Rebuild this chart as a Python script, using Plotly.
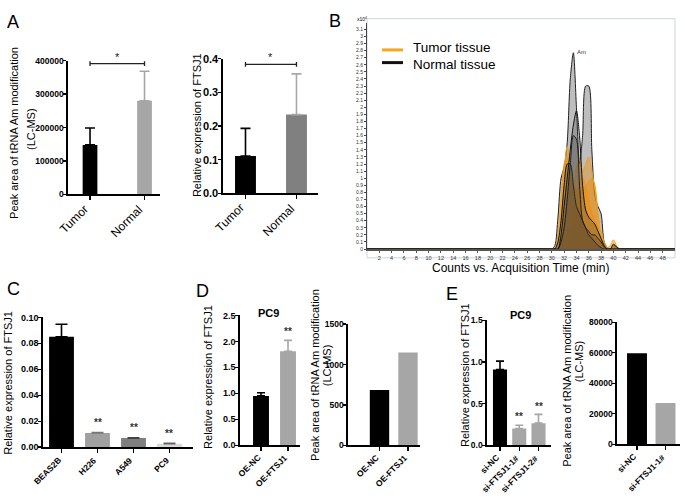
import plotly.graph_objects as go

W, H = 685, 501

# ---------------- data ----------------
A_CATS = ["Tumor", "Normal"]
A1_VALS = [148000, 280000]
A1_ERR = [50500, 88500]
A2_VALS = [0.111, 0.234]
A2_ERR = [0.082, 0.121]

C_CATS = ["BEAS2B", "H226", "A549", "PC9"]
C_VALS = [0.085, 0.011, 0.0070, 0.0026]
C_ERR = [0.0097, 0.0003, 0.0003, 0.0003]

D_CATS = ["OE-NC", "OE-FTSJ1"]
D1_VALS = [0.95, 1.81]
D1_ERR = [0.06, 0.21]
D2_VALS = [684, 1149]

E1_CATS = ["si-NC", "si-FTSJ1-1#", "si-FTSJ1-2#"]
E1_VALS = [0.91, 0.20, 0.265]
E1_ERR = [0.10, 0.04, 0.105]
E2_CATS = ["si-NC", "si-FTSJ1-1#"]
E2_VALS = [59600, 27000]

# chromatogram (counts x10^4 vs acquisition time, min)
TIME = [0, 29.5, 30, 30.5, 31, 31.5, 32, 32.5, 33, 33.5, 34, 34.5, 35, 35.5,
        36, 36.5, 37, 37.5, 38, 38.5, 39, 39.5, 40, 40.5, 41, 41.5, 50]
NORMAL_1 = [0, 0, 0, 0.05, 0.45, 1.0, 1.15, 1.5, 2.4, 2.77, 2.0, 1.2, 1.6, 2.3,
            2.3, 1.4, 0.75, 0.6, 0.5, 0.1, 0.02, 0, 0.05, 0.03, 0, 0, 0]
NORMAL_2 = [0, 0, 0, 0, 0, 0.2, 0.6, 1.0, 1.4, 1.75, 1.95, 1.6, 0.9, 0.55,
            0.45, 0.4, 0.35, 0.25, 0.15, 0.05, 0, 0, 0.07, 0.03, 0, 0, 0]
NORMAL_3 = [0, 0, 0, 0, 0, 0.1, 0.3, 0.7, 1.2, 1.6, 1.55, 0.9, 0.4, 0.3,
            0.25, 0.2, 0.2, 0.15, 0.1, 0.03, 0, 0, 0, 0, 0, 0, 0]
NORMAL_4 = [0, 0, 0, 0, 0.1, 0.4, 0.9, 1.2, 1.2, 0.9, 0.6, 0.5, 0.4, 0.3,
            0.2, 0.15, 0.1, 0.05, 0.02, 0, 0, 0, 0, 0, 0, 0, 0]
TUMOR_1 = [0, 0, 0, 0, 0.1, 0.5, 1.1, 1.45, 1.2, 0.8, 0.6, 0.6, 0.5, 0.35,
           0.25, 0.2, 0.15, 0.1, 0.05, 0, 0, 0, 0, 0, 0, 0, 0]
TUMOR_2 = [0, 0, 0, 0, 0, 0.05, 0.3, 0.6, 0.8, 0.9, 1.15, 1.27, 1.1, 1.2,
           1.3, 1.1, 0.85, 0.5, 0.2, 0.05, 0, 0, 0.05, 0, 0, 0, 0]
TUMOR_3 = [0, 0, 0, 0, 0, 0, 0, 0.05, 0.2, 0.4, 0.6, 0.8, 0.85, 0.9,
           0.95, 1.0, 0.9, 0.5, 0.2, 0.05, 0.02, 0.05, 0.13, 0.05, 0, 0, 0]
TUMOR_4 = [0, 0, 0, 0, 0.2, 0.7, 1.2, 1.3, 1.0, 0.9, 0.85, 0.7, 0.5, 0.3,
           0.2, 0.15, 0.1, 0.05, 0.02, 0, 0, 0, 0, 0, 0, 0, 0]
TUMOR_5 = [0, 0, 0, 0, 0, 0, 0.1, 0.2, 0.3, 0.55, 0.8, 0.95, 1.0, 0.9,
           0.7, 0.5, 0.4, 0.3, 0.25, 0.1, 0.02, 0, 0, 0, 0, 0, 0]
B_XTICKS = [2, 4, 6, 8, 10, 12, 14, 16, 18, 20, 22, 24, 26, 28, 30, 32, 34,
            36, 38, 40, 42, 44, 46, 48]

A1_TICKS = [0, 100000, 200000, 300000, 400000]
A2_TICKS = [0.0, 0.1, 0.2, 0.3, 0.4]
C_TICKS = [0.00, 0.02, 0.04, 0.06, 0.08, 0.10]
D1_TICKS = [0.0, 0.5, 1.0, 1.5, 2.0, 2.5]
D2_TICKS = [0, 500, 1000, 1500]
E1_TICKS = [0.0, 0.5, 1.0, 1.5]
E2_TICKS = [0, 20000, 40000, 60000, 80000]

# ---------------- helpers ----------------
FONT = "Liberation Sans, Arial, sans-serif"
fig = go.Figure()
layout = {}
annotations = []
shapes = []


def px(x):
    return x / W


def py(y):
    return 1 - y / H


def ref(n, kind):
    return kind if n == 1 else f"{kind}{n}"


def bar_panel(n, cats, vals, errs, colors, ecolors, xpx, ypx, xrange, width,
              yticks, yfmt, ytick_size, cat_size, cat_bold, cap):
    for i, (c, v) in enumerate(zip(cats, vals)):
        err = None
        if errs is not None:
            err = dict(type="data", symmetric=False, array=[errs[i]],
                       arrayminus=[0], color=ecolors[i], thickness=1.6,
                       width=cap)
        fig.add_trace(go.Bar(x=[c], y=[v], width=width, marker_color=colors[i],
                             marker_line_width=0, error_y=err,
                             xaxis=ref(n, "x"), yaxis=ref(n, "y"),
                             showlegend=False))
        # rotated category label, end of text at the tick
        annotations.append(dict(
            x=c, y=0, xref=ref(n, "x"), yref=ref(n, "y"), text=c,
            showarrow=False, textangle=-45, xanchor="right", yanchor="top",
            xshift=4, yshift=-5,
            font=dict(family=FONT, size=cat_size, color="black",
                      weight="bold" if cat_bold else "normal")))
    layout[ref(n, "xaxis")] = dict(
        domain=[px(xpx[0]), px(xpx[1])], range=xrange, type="category",
        categoryorder="array", categoryarray=cats, anchor=ref(n, "y"),
        showline=True, linecolor="black", linewidth=1.6, ticks="outside",
        ticklen=4, tickwidth=1.4, tickcolor="black", showticklabels=False,
        showgrid=False, zeroline=False, fixedrange=True)
    layout[ref(n, "yaxis")] = dict(
        domain=[py(ypx[1]), py(ypx[0])], range=[yticks[0], yticks[-1]],
        tickvals=yticks, tickformat=yfmt, anchor=ref(n, "x"),
        showline=True, linecolor="black", linewidth=1.6, ticks="outside",
        ticklen=3, tickwidth=1.4, tickcolor="black", ticklabelstandoff=-2,
        tickfont=dict(family=FONT, size=ytick_size, color="black",
                      weight="bold"),
        showgrid=False, zeroline=False, fixedrange=True)


def text(x, y, s, size, angle=0, bold=False, color="black", xanchor="center"):
    annotations.append(dict(
        x=px(x), y=py(y), xref="paper", yref="paper", text=s, showarrow=False,
        textangle=angle, xanchor=xanchor, yanchor="middle",
        font=dict(family=FONT, size=size, color=color,
                  weight="bold" if bold else "normal")))


def star(n, cat, yval, s="**", size=10):
    annotations.append(dict(
        x=cat, y=yval, xref=ref(n, "x"), yref=ref(n, "y"), text=s,
        showarrow=False, yanchor="bottom", yshift=0,
        font=dict(family=FONT, size=size, color="#333333", weight="bold")))


def bracket(n, x0, x1, yv, dy):
    xr, yr = ref(n, "x"), ref(n, "y")
    common = dict(xref=xr, yref=yr, line=dict(color="#222222", width=1.3))
    shapes.append(dict(type="line", x0=x0, x1=x1, y0=yv, y1=yv, **common))
    shapes.append(dict(type="line", x0=x0, x1=x0, y0=yv - dy, y1=yv + dy, **common))
    shapes.append(dict(type="line", x0=x1, x1=x1, y0=yv - dy, y1=yv + dy, **common))


GRAY = "#a6a6a6"

# ---------------- Panel A ----------------
bar_panel(1, A_CATS, A1_VALS, A1_ERR, ["#000000", GRAY], ["#000000", GRAY],
          (68, 160), (56, 193), [-0.404, 1.284], 0.27, A1_TICKS, "d", 8.5,
          12, False, 5)
bracket(1, 0, 1, 391000, 7300)
annotations.append(dict(x=0.5, y=391000, xref="x", yref="y", text="*",
                        showarrow=False, yanchor="bottom", yshift=-1,
                        font=dict(family=FONT, size=11, color="#222")))

bar_panel(2, A_CATS, A2_VALS, A2_ERR, ["#000000", "#808080"],
          ["#000000", "#a8a8a8"], (223, 318), (54, 192), [-0.441, 1.422],
          0.41, A2_TICKS, ".1f", 11, 12, False, 5)
bracket(2, 0, 1, 0.383, 0.007)
annotations.append(dict(x=0.5, y=0.383, xref="x2", yref="y2", text="*",
                        showarrow=False, yanchor="bottom", yshift=-1,
                        font=dict(family=FONT, size=11, color="#222")))

text(14, 130, "Peak area of tRNA Am modification", 11, -90)
text(31, 126, "(LC-MS)", 11, -90)
text(197, 122, "Relative expression of FTSJ1", 11, -90)

# ---------------- Panel B ----------------
tumor_line = "#f0a020"
tumor_fill = "rgba(235,140,10,0.42)"


def chrom(yvals, line, fill):
    fig.add_trace(go.Scatter(x=TIME, y=yvals, mode="lines",
                             line=dict(color=line, width=1, shape="spline",
                                       smoothing=0.8),
                             fill="tozeroy", fillcolor=fill,
                             xaxis="x3", yaxis="y3", showlegend=False,
                             hoverinfo="skip"))


chrom(NORMAL_1, "#222222", "rgba(110,110,110,0.45)")
for t in (TUMOR_5, TUMOR_3, TUMOR_2, TUMOR_4, TUMOR_1):
    chrom(t, tumor_line, tumor_fill)
for nn in (NORMAL_4, NORMAL_3, NORMAL_2):
    chrom(nn, "#111111", "rgba(60,60,60,0.28)")

layout["xaxis3"] = dict(
    domain=[px(367), px(675)], range=[0, 50], tickvals=B_XTICKS,
    anchor="y3", showline=True, linecolor="#555555", linewidth=2,
    ticks="outside", ticklen=2, tickwidth=1, tickcolor="#555",
    tickfont=dict(family=FONT, size=5.5, color="#333"),
    showgrid=False, zeroline=False, fixedrange=True)
layout["yaxis3"] = dict(
    domain=[py(249), py(17.4)], range=[0, 3.19], tick0=0, dtick=0.1,
    anchor="x3", showline=True, linecolor="#444", linewidth=1,
    ticks="outside", ticklen=2, tickwidth=1, tickcolor="#444",
    tickfont=dict(family=FONT, size=5, color="#333"),
    showgrid=False, zeroline=False, fixedrange=True)
shapes.append(dict(type="rect", xref="paper", yref="paper", x0=px(367),
                   x1=px(675), y0=py(258), y1=py(13),
                   line=dict(color="#cdd5de", width=1), layer="below"))
text(362, 13, "x10<sup>4</sup>", 5)
annotations.append(dict(x=33.5, y=2.77, xref="x3", yref="y3", text="Am",
                        showarrow=False, xanchor="left", yanchor="bottom",
                        xshift=2, yshift=-4,
                        font=dict(family=FONT, size=6, color="#333")))
# legend
shapes.append(dict(type="line", xref="paper", yref="paper", x0=px(382),
                   x1=px(403), y0=py(45), y1=py(45),
                   line=dict(color="#f5a623", width=3)))
shapes.append(dict(type="line", xref="paper", yref="paper", x0=px(382),
                   x1=px(403), y0=py(58), y1=py(58),
                   line=dict(color="#111111", width=3)))
text(411, 43, "Tumor tissue", 13.5, xanchor="left")
text(411, 60, "Normal tissue", 13.5, xanchor="left")
text(520, 268, "Counts vs. Acquisition Time (min)", 12)

# ---------------- Panel C ----------------
bar_panel(4, C_CATS, C_VALS, C_ERR,
          ["#000000", "#a0a0a0", "#7f7f7f", "#d9d9d9"],
          ["#000000", "#777777", "#444444", "#666666"],
          (43, 193), (319, 452), [-0.514, 3.653], 0.69, C_TICKS, ".2f",
          9, 8.5, True, 6)
for c, v, e in zip(C_CATS[1:], C_VALS[1:], C_ERR[1:]):
    star(4, c, v + e + 0.002)
text(8, 386, "Relative expression of FTSJ1", 11, -90)

# ---------------- Panel D ----------------
bar_panel(5, D_CATS, D1_VALS, D1_ERR, ["#000000", GRAY], ["#000000", GRAY],
          (240, 300), (317, 450), [-0.778, 1.444], 0.59, D1_TICKS, ".1f",
          9, 8.5, True, 4)
star(5, D_CATS[1], D1_VALS[1] + D1_ERR[1] + 0.02)
text(268, 315, "PC9", 11, bold=True)
text(208, 380, "Relative expression of FTSJ1", 11, -90)

bar_panel(6, D_CATS, D2_VALS, None, ["#000000", GRAY], None,
          (348, 420), (326, 450), [-1.105, 1.421], 0.68, D2_TICKS, "d",
          8.5, 8.5, True, 4)
text(315, 378, "Peak area of tRNA Am modification", 11, -90)
text(327, 368, "(LC-MS)", 11, -90)

# ---------------- Panel E ----------------
bar_panel(7, E1_CATS, E1_VALS, E1_ERR, ["#000000", GRAY, GRAY],
          ["#000000", GRAY, GRAY], (487, 551), (322, 450), [-0.675, 2.649],
          0.73, E1_TICKS, ".1f", 8.5, 8.5, True, 4)
for c, v, e in zip(E1_CATS[1:], E1_VALS[1:], E1_ERR[1:]):
    star(7, c, v + e + 0.01)
text(520, 317, "PC9", 11, bold=True)
text(465, 378, "Relative expression of FTSJ1", 11, -90)

bar_panel(8, E2_CATS, E2_VALS, None, ["#000000", GRAY], None,
          (617, 680), (324, 449), [-0.702, 1.509], 0.7, E2_TICKS, "d",
          8.5, 8.5, True, 4)
text(567, 384, "Peak area of tRNA Am modification", 11, -90)
text(579, 364, "(LC-MS)", 11, -90)

# panel letters
for L, x, y in (("A", 13, 16), ("B", 335, 15), ("C", 13, 290),
                ("D", 202, 292), ("E", 452, 295)):
    text(x, y, L, 18)

fig.update_layout(
    width=W, height=H, margin=dict(l=0, r=0, t=0, b=0),
    paper_bgcolor="white", plot_bgcolor="rgba(0,0,0,0)",
    barmode="overlay", showlegend=False,
    font=dict(family=FONT, color="black"),
    annotations=annotations, shapes=shapes, **layout)

fig.write_html(
    "out.html",
    config={"displayModeBar": False, "staticPlot": True},
    post_script="document.body.style.margin='0';document.body.style.padding='0';"
                "document.documentElement.style.overflow='hidden';")
